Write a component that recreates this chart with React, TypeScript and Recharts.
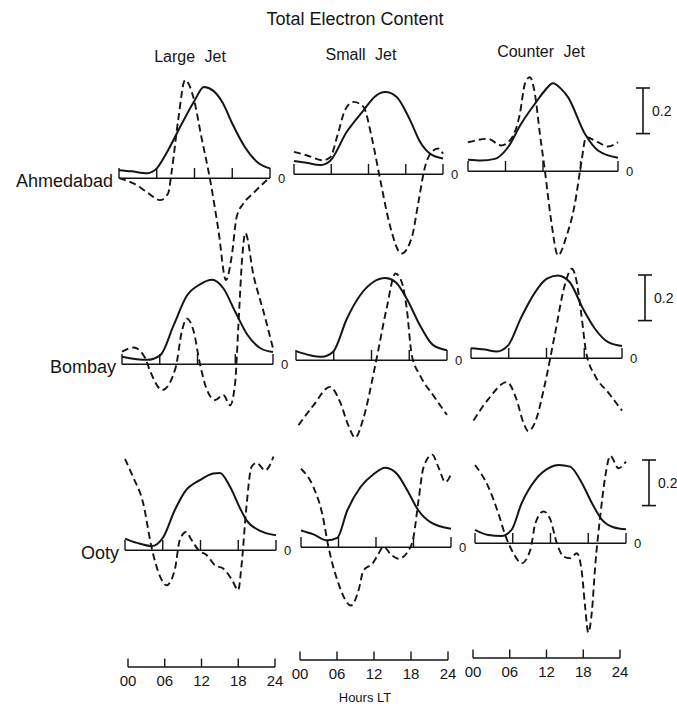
import React from 'react'
import { LineChart, Line, XAxis, YAxis, ReferenceLine } from 'recharts'

type Pt = [number, number]

const hourTicks = [0, 6, 12, 18, 24]
const hourLabels = ['00', '06', '12', '18', '24']
const stations = ['Ahmedabad', 'Bombay', 'Ooty']
const jets = ['Large Jet', 'Small Jet', 'Counter Jet']
const scaleValue = 0.2

// [hour LT, TEC]  solid = mean curve, dashed = deviation curve
const ahmLargeSolid: Pt[] = [[0, 0.035], [2, 0.03], [4.5, 0.022], [6, 0.043], [7.8, 0.123], [10, 0.24], [12, 0.34], [13.5, 0.4], [15, 0.383], [16.5, 0.33], [18, 0.24], [20, 0.137], [22, 0.07], [24, 0.043]]
const ahmLargeDashed: Pt[] = [[0, 0], [2.3, -0.023], [4.4, -0.06], [6.5, -0.096], [7.8, -0.067], [8.4, 0.035], [9.4, 0.254], [10.5, 0.43], [11.8, 0.357], [13.1, 0.18], [14.5, -0.01], [15.8, -0.228], [17, -0.447], [17.9, -0.345], [18.7, -0.17], [19.8, -0.11], [21.3, -0.067], [24, 0.005]]
const ahmSmallSolid: Pt[] = [[0, 0.058], [2, 0.05], [4.2, 0.04], [5.8, 0.058], [8.5, 0.186], [11.2, 0.28], [13, 0.34], [14.7, 0.36], [16.5, 0.34], [18.7, 0.237], [20.3, 0.142], [21.9, 0.09], [24, 0.069]]
const ahmSmallDashed: Pt[] = [[0, 0.098], [2, 0.083], [4.7, 0.061], [5.8, 0.073], [7.1, 0.18], [8.2, 0.28], [9.6, 0.317], [11.2, 0.295], [12.5, 0.164], [13.9, -0.026], [15.5, -0.23], [17.3, -0.348], [19, -0.275], [20, -0.129], [21.1, 0.032], [22.2, 0.098], [23.2, 0.113], [24, 0.09]]
const ahmCounterSolid: Pt[] = [[0, 0.05], [2.1, 0.047], [4.3, 0.054], [6.4, 0.105], [8.5, 0.208], [10.9, 0.303], [12.3, 0.354], [13.6, 0.386], [14.9, 0.361], [16, 0.325], [18.7, 0.164], [20.8, 0.091], [24, 0.059]]
const ahmCounterDashed: Pt[] = [[0, 0.127], [3.2, 0.142], [5.3, 0.113], [6.9, 0.142], [8.3, 0.252], [9.1, 0.383], [9.9, 0.412], [10.7, 0.34], [11.5, 0.164], [12.3, 0.003], [13.3, -0.216], [14.4, -0.37], [15.7, -0.29], [17.1, -0.143], [18.1, 0.032], [18.9, 0.149], [20.8, 0.127], [22.4, 0.108], [24, 0.127]]

const bomLargeSolid: Pt[] = [[0, 0.033], [4, 0.019], [6.1, 0.04], [8.2, 0.17], [10.3, 0.3], [12.4, 0.35], [14.3, 0.37], [16.1, 0.333], [18, 0.23], [19.9, 0.13], [22, 0.07], [24, 0.053]]
const bomLargeDashed: Pt[] = [[0, 0.055], [1.85, 0.073], [3.7, 0.026], [4.5, -0.032], [6.4, -0.113], [8.5, -0.018], [9.5, 0.143], [10.3, 0.2], [11.4, 0.143], [12.4, 0], [13.4, -0.105], [14.8, -0.157], [16.1, -0.135], [17.2, -0.18], [18, -0.076], [18.5, 0.17], [19.1, 0.465], [19.6, 0.575], [20.9, 0.39], [22.5, 0.23], [24, 0.07]]
const bomSmallSolid: Pt[] = [[0, 0.04], [2.2, 0.022], [4.1, 0.015], [5.9, 0.037], [8.1, 0.183], [10.2, 0.285], [12.3, 0.343], [14.2, 0.36], [15.8, 0.343], [17.6, 0.27], [19.7, 0.153], [21.8, 0.066], [24, 0.044]]
const bomSmallDashed: Pt[] = [[0.4, -0.285], [2.8, -0.197], [5.4, -0.117], [7, -0.183], [8.3, -0.285], [9.4, -0.34], [10.7, -0.256], [12.6, -0.022], [14.4, 0.227], [15.8, 0.38], [16.8, 0.343], [17.6, 0.227], [18.4, 0.022], [19.7, -0.066], [21.8, -0.154], [24, -0.24]]
const bomCounterSolid: Pt[] = [[0, 0.044], [2.2, 0.038], [4.1, 0.029], [5.9, 0.056], [8, 0.18], [10.2, 0.29], [12, 0.348], [13.8, 0.363], [15.7, 0.333], [17.8, 0.217], [19.7, 0.129], [21.8, 0.07], [24, 0.053]]
const bomCounterDashed: Pt[] = [[0.4, -0.273], [2.8, -0.178], [5.7, -0.105], [7.2, -0.178], [8.3, -0.28], [9.1, -0.32], [10.2, -0.28], [11.7, -0.12], [13.3, 0.1], [14.9, 0.32], [16, 0.392], [16.6, 0.36], [17.5, 0.2], [18.3, 0.026], [19.7, -0.076], [21.8, -0.15], [24, -0.23]]

const ootLargeSolid: Pt[] = [[0, 0.051], [1.9, 0.032], [4.2, 0.018], [6.1, 0.058], [7.9, 0.175], [9.5, 0.256], [11.9, 0.307], [14, 0.336], [15.1, 0.339], [16.7, 0.278], [18.3, 0.183], [19.3, 0.132], [21.5, 0.085], [24, 0.066]]
const ootLargeDashed: Pt[] = [[0, 0.4], [1.3, 0.32], [2.9, 0.205], [4.2, 0.015], [5.6, -0.117], [6.6, -0.154], [7.9, -0.088], [8.7, 0.044], [9.7, 0.08], [10.6, 0.044], [11.7, 0], [13, -0.022], [14.3, -0.066], [15.6, -0.08], [17, -0.13], [18, -0.175], [18.5, -0.073], [19.3, 0.19], [20.1, 0.365], [20.9, 0.383], [22.3, 0.35], [23.6, 0.41]]
const ootSmallSolid: Pt[] = [[0, 0.073], [2, 0.056], [4.2, 0.03], [5.8, 0.041], [7.4, 0.161], [9.5, 0.263], [11.6, 0.32], [13.5, 0.348], [15.4, 0.32], [17, 0.25], [18.8, 0.161], [20.7, 0.11], [24, 0.081]]
const ootSmallDashed: Pt[] = [[0, 0.344], [2, 0.263], [3.4, 0.146], [4.4, 0], [6, -0.16], [8, -0.256], [9.2, -0.19], [10, -0.102], [11.4, -0.073], [12.4, -0.029], [13.2, 0.003], [14.3, -0.029], [15.6, -0.051], [17.2, -0.015], [18, 0.044], [18.8, 0.205], [19.6, 0.35], [21, 0.406], [22, 0.35], [23.1, 0.285], [24, 0.32]]
const ootCounterSolid: Pt[] = [[0, 0.058], [2.1, 0.036], [4.2, 0.032], [5.8, 0.058], [7.4, 0.175], [9.6, 0.278], [11.7, 0.329], [13.3, 0.343], [15.1, 0.336], [17, 0.263], [18.6, 0.175], [20.2, 0.102], [22, 0.07], [24, 0.061]]
const ootCounterDashed: Pt[] = [[0, 0.343], [2.1, 0.248], [3.7, 0.132], [4.8, 0.036], [6.1, -0.044], [7.4, -0.088], [8.8, -0.029], [9.6, 0.088], [10.9, 0.139], [12, 0.102], [13, 0], [14.1, -0.059], [15.1, -0.066], [16.2, -0.044], [17, -0.132], [17.5, -0.278], [18, -0.392], [18.6, -0.293], [19.1, -0.102], [19.9, 0.117], [20.7, 0.292], [21.5, 0.383], [22.8, 0.329], [24, 0.358]]

const series: [Pt[], Pt[]][][] = [
  [[ahmLargeSolid, ahmLargeDashed], [ahmSmallSolid, ahmSmallDashed], [ahmCounterSolid, ahmCounterDashed]],
  [[bomLargeSolid, bomLargeDashed], [bomSmallSolid, bomSmallDashed], [bomCounterSolid, bomCounterDashed]],
  [[ootLargeSolid, ootLargeDashed], [ootSmallSolid, ootSmallDashed], [ootCounterSolid, ootCounterDashed]],
]

// layout (the scan is slightly rotated, so each panel has its own baseline)
const PX = 228
const Y_MIN = -0.5
const Y_MAX = 0.65
const INK = '#151515'
const FONT = "'Liberation Sans', Arial, sans-serif"

const boxes = [
  [{ x0: 119, x1: 270, yb: 178 }, { x0: 294, x1: 443, yb: 174 }, { x0: 468, x1: 618, yb: 171 }],
  [{ x0: 122, x1: 273, yb: 364 }, { x0: 296, x1: 447, yb: 360 }, { x0: 471, x1: 622, yb: 358 }],
  [{ x0: 125, x1: 276, yb: 550 }, { x0: 301, x1: 451, yb: 547 }, { x0: 475, x1: 626, yb: 543 }],
]
const headerPos = [{ x: 190, y: 57 }, { x: 361, y: 55 }, { x: 541, y: 52 }]
const scaleBars = [{ x: 643, top: 88 }, { x: 645, top: 275 }, { x: 649, top: 460 }]
const bottomAxes = [{ x0: 128, x1: 275, y: 667 }, { x0: 300, x1: 448, y: 660 }, { x0: 473, x1: 620, y: 658 }]

const rows = (pts: Pt[]) => pts.map(([h, v]) => ({ h, v }))

function Panel({ box, solid, dashed }: { box: { x0: number; x1: number; yb: number }; solid: Pt[]; dashed: Pt[] }) {
  return (
    <div style={{ position: 'absolute', left: box.x0, top: box.yb - Y_MAX * PX }}>
      <LineChart width={box.x1 - box.x0} height={(Y_MAX - Y_MIN) * PX} margin={{ top: 0, right: 0, bottom: 0, left: 0 }}>
        <XAxis type="number" dataKey="h" domain={[0, 24]} hide />
        <YAxis type="number" domain={[Y_MIN, Y_MAX]} hide />
        <ReferenceLine y={0} stroke={INK} strokeWidth={1.5} />
        {hourTicks.map(t => (
          <ReferenceLine key={t} segment={[{ x: t, y: 0 }, { x: t, y: 0.045 }]} stroke={INK} strokeWidth={1.4} />
        ))}
        <Line data={rows(solid)} dataKey="v" type="monotone" stroke={INK} strokeWidth={2} dot={false} isAnimationActive={false} />
        <Line data={rows(dashed)} dataKey="v" type="monotone" stroke={INK} strokeWidth={1.9} strokeDasharray="7 4" dot={false} isAnimationActive={false} />
      </LineChart>
    </div>
  )
}

function ScaleBar({ x, top }: { x: number; top: number }) {
  const bar = [{ x: 0, v: 0 }, { x: 0, v: scaleValue }]
  return (
    <div style={{ position: 'absolute', left: x - 7, top }}>
      <LineChart width={14} height={scaleValue * PX} margin={{ top: 0, right: 0, bottom: 0, left: 0 }}>
        <XAxis type="number" dataKey="x" domain={[-1, 1]} hide />
        <YAxis type="number" domain={[0, scaleValue]} hide />
        <Line data={bar} dataKey="v" type="linear" stroke={INK} strokeWidth={1.6} dot={false} isAnimationActive={false} />
        <ReferenceLine segment={[{ x: -1, y: 0 }, { x: 1, y: 0 }]} stroke={INK} strokeWidth={1.6} ifOverflow="visible" />
        <ReferenceLine segment={[{ x: -1, y: scaleValue }, { x: 1, y: scaleValue }]} stroke={INK} strokeWidth={1.6} ifOverflow="visible" />
      </LineChart>
      <div style={{ position: 'absolute', left: 16, top: (scaleValue * PX) / 2 - 9, fontSize: 14, lineHeight: '18px' }}>{scaleValue}</div>
    </div>
  )
}

function HoursAxis({ x0, x1, y }: { x0: number; x1: number; y: number }) {
  const base = hourTicks.map(h => ({ h, v: 0 }))
  return (
    <div style={{ position: 'absolute', left: x0, top: y - 12 }}>
      <LineChart width={x1 - x0} height={40} margin={{ top: 0, right: 0, bottom: 0, left: 0 }}>
        <XAxis
          type="number"
          dataKey="h"
          domain={[0, 24]}
          ticks={hourTicks}
          tickFormatter={(v: number) => hourLabels[hourTicks.indexOf(v)]}
          height={28}
          tickLine={false}
          axisLine={{ stroke: INK, strokeWidth: 1.5 }}
          tick={{ fill: INK, fontSize: 15, fontFamily: FONT }}
          interval={0}
        />
        <YAxis type="number" domain={[0, 1]} hide />
        <Line data={base} dataKey="v" stroke="none" dot={false} isAnimationActive={false} />
        {hourTicks.map(t => (
          <ReferenceLine key={t} segment={[{ x: t, y: 0 }, { x: t, y: 0.7 }]} stroke={INK} strokeWidth={1.4} ifOverflow="visible" />
        ))}
      </LineChart>
    </div>
  )
}

export default function App() {
  return (
    <div style={{ position: 'absolute', left: 0, top: 0, width: 677, height: 706, background: '#fff', fontFamily: FONT, color: INK, overflow: 'hidden' }}>
      <style>{'.recharts-surface{overflow:visible}'}</style>
      <div style={{ position: 'absolute', left: 250, width: 210, top: 9, textAlign: 'center', fontSize: 18 }}>Total Electron Content</div>
      {jets.map((j, i) => (
        <div key={j} style={{ position: 'absolute', left: headerPos[i].x - 60, width: 120, top: headerPos[i].y - 9, textAlign: 'center', fontSize: 16, wordSpacing: 5 }}>{j}</div>
      ))}
      {stations.map((s, r) => (
        <div key={s} style={{ position: 'absolute', right: 677 - boxes[r][0].x0 + 6, top: boxes[r][0].yb - 8, fontSize: 18, lineHeight: '22px' }}>{s}</div>
      ))}
      {boxes.map((row, r) =>
        row.map((b, c) => (
          <React.Fragment key={`${r}-${c}`}>
            <Panel box={b} solid={series[r][c][0]} dashed={series[r][c][1]} />
            <div style={{ position: 'absolute', left: b.x1 + 8, top: b.yb - 7, fontSize: 13, lineHeight: '16px' }}>0</div>
          </React.Fragment>
        ))
      )}
      {scaleBars.map((s, i) => <ScaleBar key={i} x={s.x} top={s.top} />)}
      {bottomAxes.map((a, i) => <HoursAxis key={i} x0={a.x0} x1={a.x1} y={a.y} />)}
      <div style={{ position: 'absolute', left: 315, width: 100, top: 690, textAlign: 'center', fontSize: 13 }}>Hours LT</div>
    </div>
  )
}
